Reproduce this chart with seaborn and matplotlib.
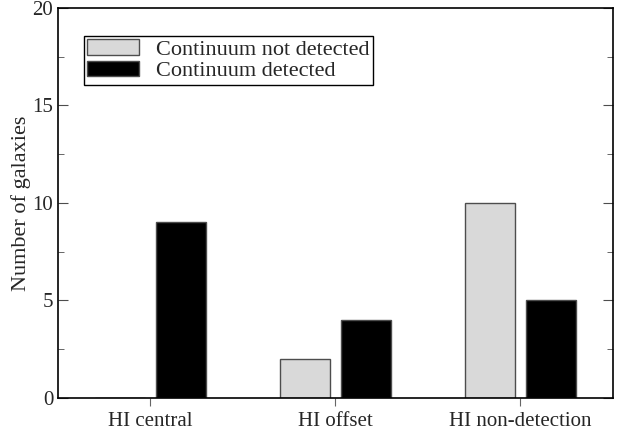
import pandas as pd
import matplotlib
matplotlib.use("Agg")
import matplotlib.pyplot as plt
from matplotlib.ticker import MultipleLocator
import seaborn as sn

# Galaxy counts per HI class, split by continuum detection
categories = ["HI central", "HI offset", "HI non-detection"]
not_detected = [0, 2, 10]
detected = [9, 4, 5]
series_names = ["Continuum not detected", "Continuum detected"]

df = pd.DataFrame({
    "category": categories * 2,
    "count": not_detected + detected,
    "continuum": [series_names[0]] * 3 + [series_names[1]] * 3,
})

sn.set_style("white")
plt.rcParams["font.family"] = ["Liberation Serif", "DejaVu Serif"]
plt.rcParams["font.size"] = 15

fig = plt.figure(figsize=(6.17, 4.32), dpi=100)
ax = fig.add_axes([0.094, 0.0787, 0.8995, 0.9028])

sn.barplot(data=df, x="category", y="count", hue="continuum",
           hue_order=series_names, palette=["#d9d9d9", "black"],
           width=0.66, gap=0.17, edgecolor="0.3", linewidth=1,
           ax=ax, legend=True)

ax.set_xlim(-0.5, 2.5)
ax.set_ylim(0, 20)
ax.set_xlabel("")
ax.set_ylabel("Number of galaxies", fontsize=16, labelpad=1)

ax.yaxis.set_major_locator(MultipleLocator(5))
ax.yaxis.set_minor_locator(MultipleLocator(2.5))
ax.tick_params(axis="y", which="both", direction="in", right=True, left=True,
               labelsize=15, color="0.3")
ax.tick_params(axis="y", which="major", length=7)
ax.tick_params(axis="y", which="minor", length=4)
ax.tick_params(axis="x", direction="out", length=6, bottom=True, color="0.4",
               labelsize=15, pad=4)

for s in ax.spines.values():
    s.set_visible(True)
    s.set_color("black")
    s.set_linewidth(1.2)

leg = ax.legend(loc="upper left", bbox_to_anchor=(0.047, 0.928), borderaxespad=0,
                fancybox=False, edgecolor="black", framealpha=1, fontsize=16,
                handlelength=2.3, handleheight=0.72, labelspacing=0.02,
                borderpad=0.15, handletextpad=0.8)
leg.get_frame().set_linewidth(1)

fig.savefig("out.png", dpi=100)
